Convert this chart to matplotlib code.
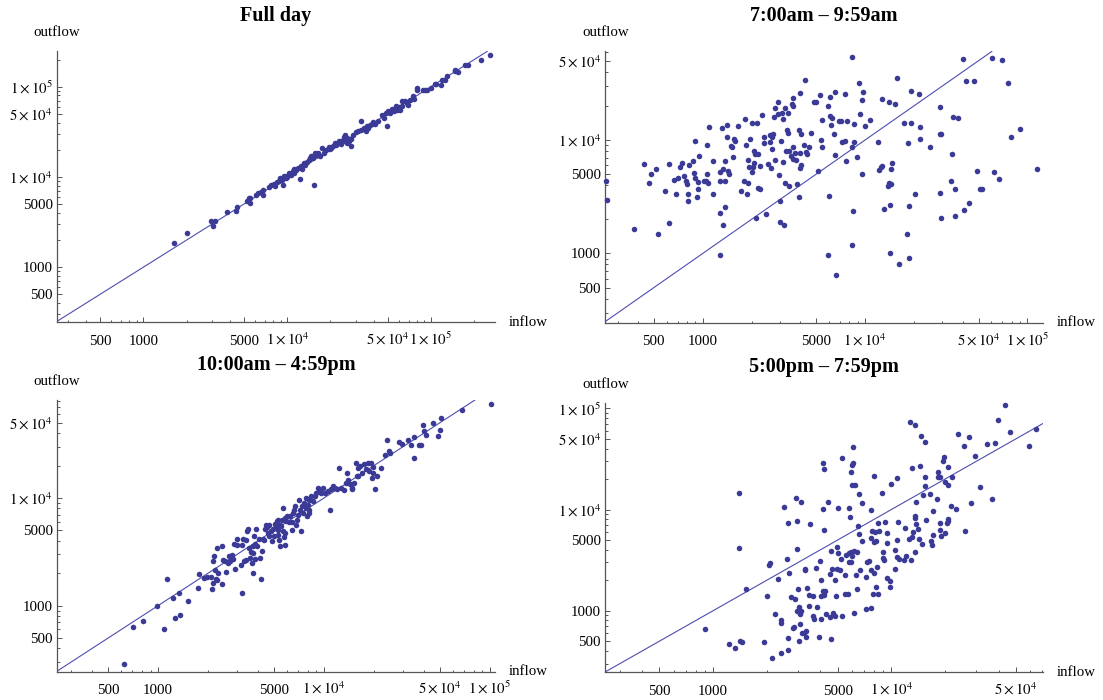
import numpy as np
import matplotlib
matplotlib.use('Agg')
from matplotlib import pyplot as plt
from matplotlib.ticker import FixedLocator, FixedFormatter, NullFormatter

plt.rcParams['font.family'] = ['Liberation Serif', 'DejaVu Serif']
plt.rcParams['mathtext.fontset'] = 'stix'

# (inflow, outflow) per station
full_day = [(1640,1840),(2000,2370),(2960,3250),(3050,2840),(3130,3250),(3810,4130),(4390,4160),(4490,4690),
    (5250,5370),(5400,5850),(5520,5100),(5550,5850),(6040,6370),(6290,6650),(6580,6880),(6770,7110),(6840,6370),
    (7480,7810),(7780,8150),(8050,8430),(8240,7880),(8470,8730),(8710,8950),(8960,9750),(9220,9340),(9380,8090),
    (9490,10200),(9760,9750),(10000,10300),(10300,11100),(10600,10600),(10900,11600),(11200,11100),(11600,11900),
    (11900,12600),(12200,9500),(12400,13100),(12700,12100),(13100,14300),(13700,14500),(14200,15600),(14700,16900),
    (15100,16300),(15400,8090),(15700,18500),(16000,17300),(16500,18200),(16800,16900),(17600,21000),(18100,18500),
    (18600,19800),(19400,21500),(19900,20500),(20800,21900),(21400,23800),(22000,22800),(22900,24900),(23600,23200),
    (24400,25900),(25100,29500),(25400,24900),(26100,27100),(26800,24900),(27900,22300),(28900,29500),(30000,31200),
    (30900,32100),(32700,33500),(32700,41800),(34200,34900),(35200,32700),(36000,36500),(37600,38000),(39400,40400),
    (41000,39000),(42600,41400),(45800,49100),(47100,45100),(48500,51300),(49200,37100),(50400,53500),(51800,51300),
    (53600,56700),(55100,53500),(56700,60800),(58300,55800),(60000,59700),(61400,55800),(63400,69000),(65900,69000),
    (67900,66200),(69800,62400),(75000,78500),(76700,73300),(79400,96100),(80300,93000),(87400,91500),(91400,91500),
    (94000,91500),(99500,97000),(106000,106000),(109000,107000),(118000,104000),(120000,120000),(130000,131000),
    (126000,120000),(146000,149000),(147000,155000),(153000,145000),(172000,176000),(180000,176000),(223000,200000),
    (257000,223000),(9900,9910),(11200,12100),(13300,13700),(14500,16300),(16200,17700),(20200,21000),(22600,23800),
    (24700,27800),(26100,23800),(27600,26400),(38700,39000),(36500,34900),(54200,55800),(62400,61800),(71800,72100)]

morning = [(255,4350),(259,2990),(377,1630),(434,6140),(470,4180),(479,4980),(519,5550),(527,1500),(585,3570),
    (618,6100),(621,1840),(670,4440),(681,3320),(701,4620),(730,5820),(741,6220),(767,4840),(787,4350),(798,4070),
    (807,3320),(811,2880),(819,5980),(869,6530),(887,5120),(891,4590),(896,9730),(927,3140),(937,3700),(951,7220),
    (942,4250),(1020,4350),(1050,4320),(1060,5010),(1060,9030),(1080,4150),(1090,13000),(1160,6490),(1160,3360),
    (1270,5260),(1270,4350),(1280,2270),(1280,960),(1320,12800),(1330,1780),(1340,5510),(1380,6530),(1380,4350),
    (1380,2550),(1410,10700),(1420,13500),(1440,5360),(1450,4980),(1490,8850),(1520,8730),(1530,7130),(1550,10300),
    (1580,9730),(1650,13200),(1710,3550),(1790,4350),(1810,15400),(1840,9100),(1870,3360),(1900,6670),(1910,4180),
    (1920,5740),(1950,10200),(2000,5190),(2020,14100),(2040,5820),(2070,6260),(2080,8000),(2110,7580),(2120,2040),
    (2150,14100),(2180,7480),(2200,3750),(2260,3730),(2260,5900),(2330,16500),(2370,10700),(2390,9350),(2450,2250),
    (2520,6100),(2580,11100),(2610,9670),(2640,5700),(2670,10600),(2690,8330),(2730,11200),(2760,16100),(2800,19000),
    (2800,6670),(2900,21800),(2930,16900),(2950,4880),(3010,2880),(3010,1900),(3040,9800),(3070,17200),(3110,6440),
    (3130,15400),(3180,1780),(3210,19100),(3230,4210),(3280,8000),(3310,12200),(3360,11600),(3390,3960),(3360,17400),
    (3410,8000),(3490,7280),(3530,20800),(3580,6740),(3600,23700),(3600,20000),(3620,8730),(3690,7630),(3750,6670),
    (3800,4090),(3900,3160),(3940,12200),(3980,25800),(3980,7630),(4000,5700),(4020,11200),(4040,6010),(4210,8970),
    (4250,33600),(4360,7790),(4420,7480),(4490,8730),(4670,11500),(4870,21500),(5010,21500),(5140,5360),(5300,24900),
    (5380,10000),(5400,8730),(5460,15000),(5880,20000),(5940,960),(6000,3210),(6060,23800),(6120,16400),(6180,13700),
    (6250,15600),(6400,11200),(6540,7430),(6570,26300),(6600,649),(6880,14800),(7150,14800),(7260,9530),(7480,25300),
    (7560,9730),(7670,6530),(7750,14600),(8270,54300),(8270,1190),(8310,8730),(8400,2380),(8580,9530),(8580,13900),
    (8910,7130),(9230,32100),(9330,16900),(9610,22500),(9610,5010),(9710,26600),(10000,13400),(10800,15100),
    (12100,9530),(12200,5400),(12500,5740),(12700,22800),(12800,5940),(13000,2480),(13800,3920),(14000,21500),
    (14100,4210),(14200,1010),(14200,2690),(14400,5580),(14400,4120),(14600,6220),(15400,20700),(15800,35500),
    (16300,805),(17300,14100),(18200,1500),(18400,9410),(18600,2620),(18600,904),(19200,14100),(19300,27200),
    (20300,3340),(21400,25300),(21700,13100),(21700,10300),(25100,8610),(28800,11300),(29100,19400),(29100,3430),
    (29300,11200),(29300,2070),(33700,4350),(34100,7480),(34600,16000),(35800,3730),(36000,2120),(37300,15600),
    (40400,51500),(40700,2410),(42100,33200),(43800,2800),(47200,33200),(48900,5360),(51400,3670),(52900,3670),
    (60300,52600),(62100,5190),(67300,4500),(69300,50800),(75900,31600),(79400,10600),(89500,12500),(115000,5550)]

midday = [(625,286),(706,628),(815,725),(986,993),(1080,602),(1130,1760),(1230,1180),(1260,767),(1330,1310),
    (1350,813),(1520,1100),(1730,1470),(1770,1950),(1880,1800),(2070,1840),(2120,1430),(2130,1610),(2150,2570),
    (2180,2900),(2200,2150),(2220,1760),(2250,1730),(2270,3420),(2310,2000),(2410,3550),(2430,1580),(2450,2630),
    (2580,2050),(2620,2480),(2690,2860),(2710,2610),(2780,2970),(2820,2700),(2850,3700),(2890,2200),(2970,4150),
    (3000,3670),(3140,2360),(3190,1310),(3220,3670),(3260,4180),(3300,2590),(3380,4090),(3450,4890),(3460,5180),
    (3530,3420),(3580,2760),(3640,3120),(3670,2480),(3710,2000),(3740,3550),(3780,4460),(3820,3760),(3860,2700),
    (3910,5180),(3970,3550),(4070,4180),(4110,2760),(4150,1770),(4210,3180),(4270,4180),(4360,4090),(4420,5140),
    (4490,5650),(4530,5370),(4590,4720),(4640,5650),(4760,4970),(4870,3950),(4940,5140),(5000,4460),(5050,5730),
    (5120,5450),(5200,6060),(5250,5070),(5300,6280),(5350,4090),(5400,3600),(5430,5650),(5510,5450),(5560,6280),
    (5640,8070),(5670,4970),(5730,4310),(5780,3670),(5840,6520),(5920,6060),(6010,6750),(6130,5930),(6250,6750),
    (6380,5930),(6440,5000),(6540,7240),(6600,7780),(6700,8360),(6800,5650),(6930,7000),(7040,9640),(7140,7780),
    (7250,4890),(7390,8360),(7500,7240),(7610,8980),(7760,8070),(7870,6750),(7990,8660),(8070,9640),(8150,7680),
    (8350,10400),(8550,9310),(8760,10500),(8980,11100),(9200,12400),(9340,11500),(9520,11100),(9810,12400),
    (10100,11000),(10500,11500),(10800,7730),(11000,12100),(11300,12800),(11700,12400),(12000,12000),(12300,19000),
    (12600,12400),(13100,11800),(13500,13800),(13700,17100),(13900,14800),(14400,13600),(14800,12000),(15200,13800),
    (15500,21200),(15800,15900),(16100,19000),(16500,19700),(17000,17100),(17400,20500),(17800,18400),(18300,20900),
    (18700,17700),(19200,21200),(19400,15300),(19800,19400),(20400,12200),(20900,16100),(22000,19000),(23300,25300),
    (23900,34200),(24500,27200),(25100,25900),(28300,33000),(29700,31400),(32000,34400),(33600,30800),(35000,37000),
    (35000,23400),(37100,30800),(38500,30800),(39300,47200),(39900,41800),(40900,38100),(45500,49300),(48500,37600),
    (49700,42700),(50400,55600),(67600,65600),(101000,75200),(3380,2630),(3720,3080),(5780,4720),(4640,4390),
    (5300,4550),(6870,6280),(7760,10000),(8150,7240),(9440,11500),(16100,15900),(14700,12400),(19600,17100),
    (2520,2570),(1970,1860)]

evening = [(900,662),(1220,473),(1330,425),(1390,14600),(1390,4160),(1410,500),(1450,489),(1520,1640),(1920,492),
    (2000,1390),(2070,2800),(2080,2950),(2150,344),(2230,933),(2310,2080),(2400,814),(2410,760),(2410,383),
    (2500,10500),(2610,3260),(2640,7380),(2650,2350),(2640,540),(2640,410),(2720,1360),(2790,677),(2840,682),
    (2870,1310),(2900,12900),(2940,993),(2960,7780),(2960,4070),(2990,1630),(3030,507),(3040,1080),(3070,920),
    (3080,743),(3110,993),(3130,11900),(3140,596),(3230,604),(3270,2610),(3290,2540),(3320,628),(3320,543),
    (3380,1670),(3430,1120),(3430,1430),(3490,7260),(3630,1410),(3650,879),(3660,820),(3770,2660),(3850,1090),
    (3940,547),(4000,3070),(4020,2000),(4020,820),(4040,1410),(4110,1580),(4130,10200),(4150,29100),(4190,25000),
    (4170,6330),(4190,1420),(4250,1550),(4290,920),(4420,12000),(4500,2330),(4520,865),(4560,3860),(4560,519),
    (4670,2610),(4710,942),(4800,885),(4820,1990),(4870,1410),(4980,4260),(5000,10400),(4980,2580),(5050,3680),
    (5160,2500),(5190,3260),(5280,892),(5310,32400),(5460,1470),(5510,2260),(5540,3570),(5680,1470),(5760,10300),
    (5780,3710),(5810,3000),(5870,8510),(5920,3800),(5940,3020),(5970,23500),(6000,27400),(6030,17300),(6030,3440),
    (6060,29100),(6080,41600),(6130,3880),(6190,942),(6280,17300),(6340,2230),(6400,3830),(6430,1630),(6520,6820),
    (6580,14400),(6610,5690),(6700,2550),(6800,11500),(6860,4930),(7200,2160),(7230,1050),(7330,3020),(7500,3070),
    (7640,2540),(7680,9850),(7710,1070),(7710,5190),(7820,6100),(7890,1450),(7960,21400),(7960,4810),(8040,2350),
    (8110,5960),(8220,4840),(8190,1730),(8260,2720),(8370,1470),(8410,7430),(8530,6140),(8810,14700),(8920,3310),
    (8960,3830),(9130,3190),(9250,7610),(9420,4670),(9420,2090),(9420,5860),(9770,1710),(9810,1970),(10000,17900),
    (10500,2580),(10500,4010),(10700,3390),(10800,4950),(10800,20500),(10900,7480),(11100,3240),(11800,3140),
    (12000,6540),(12100,3440),(12500,5110),(12700,73700),(12900,3190),(13000,5400),(13100,25900),(13200,5960),
    (13500,68900),(13600,8720),(13600,8330),(13600,3770),(13700,7210),(13800,11800),(14100,6390),(14200,5150),
    (14500,26900),(14600,53900),(14900,4590),(15000,13800),(15400,17100),(15500,46900),(15500,21100),(15600,7830),
    (16400,14100),(16600,4840),(16800,4460),(17100,9780),(17200,5650),(18100,12800),(18200,23700),(18200,21100),
    (18700,21100),(18700,6280),(18800,7310),(18900,5470),(19500,30200),(19700,33100),(20000,18800),(20000,5860),
    (20600,7430),(20700,7780),(20900,8070),(20900,26500),(20900,17400),(21600,10900),(22000,21100),(23000,10100),
    (23500,55200),(25600,42600),(25800,6100),(27200,52400),(27800,11500),(29500,33900),(31400,16700),(34200,44300),
    (36900,12600),(38200,45300),(39600,76600),(43400,108000),(46500,57800),(58900,42600),(65100,62300)]

titles = ['Full day', '7:00am \u2013 9:59am', '10:00am \u2013 4:59pm', '5:00pm \u2013 7:59pm']
x_ranges = [(250, 2.8e5), (251, 1.25e5), (245, 1.076e5), (248, 7.1e4)]
y_ranges = [(245, 2.46e5), (244, 6.04e4), (243, 8.1e4), (246, 1.136e5)]
major_ticks = [500, 1000, 5000, 1e4, 5e4, 1e5]

dot_color = '#3b3b97'
line_color = '#4d4db0'
axis_color = '#555555'


def tick_label(v):
    if v < 1e4:
        return '%d' % v
    e = int(np.floor(np.log10(v)))
    m = int(round(v / 10 ** e))
    return r'$%d\times10^{%d}$' % (m, e)


def set_log_ticks(axis, lo, hi):
    majors = [t for t in major_ticks if lo <= t <= hi]
    minors = [m * 10 ** e for e in range(2, 6) for m in range(1, 10)]
    minors = [t for t in minors if lo <= t <= hi and t not in majors]
    axis.set_major_locator(FixedLocator(majors))
    axis.set_major_formatter(FixedFormatter([tick_label(t) for t in majors]))
    axis.set_minor_locator(FixedLocator(minors))
    axis.set_minor_formatter(NullFormatter())


fig = plt.figure(figsize=(11.03, 7.0), dpi=100)
rects = [(0.0515, 0.5396, 0.3975, 0.3869), (0.5487, 0.5386, 0.397, 0.3879),
         (0.0515, 0.0404, 0.3975, 0.388), (0.5487, 0.0396, 0.397, 0.385)]
datasets = [full_day, morning, midday, evening]

for i in range(4):
    ax = fig.add_axes(rects[i])
    pts = np.array(datasets[i], dtype=float)
    ax.set_xscale('log')
    ax.set_yscale('log')
    ax.set_xlim(*x_ranges[i])
    ax.set_ylim(*y_ranges[i])

    # y = x reference line
    ax.axline((1000, 1000), (10000, 10000), color=line_color, lw=0.8, zorder=2)
    ax.plot(pts[:, 0], pts[:, 1], 'o', ms=4.0, mew=0, color=dot_color, zorder=3, clip_on=False)

    set_log_ticks(ax.xaxis, *x_ranges[i])
    set_log_ticks(ax.yaxis, *y_ranges[i])

    for s in ['top', 'right']:
        ax.spines[s].set_visible(False)
    for s in ['left', 'bottom']:
        ax.spines[s].set_color(axis_color)
        ax.spines[s].set_linewidth(0.9)
    ax.tick_params(which='both', direction='in', color=axis_color, width=0.7, labelsize=10.7)
    ax.tick_params(which='major', length=3.8)
    ax.tick_params(which='minor', length=1.8)
    ax.tick_params(axis='y', pad=3)
    ax.tick_params(axis='x', pad=16)
    for lab in ax.get_xticklabels():
        lab.set_verticalalignment('baseline')

    ax.annotate(titles[i], xy=(0.5, 1), xycoords='axes fraction', xytext=(0, 25.5),
                textcoords='offset points', ha='center', va='center', fontsize=14.5, fontweight='bold')
    ax.annotate('outflow', xy=(0, 1), xycoords='axes fraction', xytext=(0, 13.5),
                textcoords='offset points', ha='center', va='center', fontsize=10.7)
    ax.annotate('inflow', xy=(1, 0), xycoords='axes fraction', xytext=(10, 0),
                textcoords='offset points', ha='left', va='center', fontsize=10.7)

fig.savefig('out.png', dpi=100)
